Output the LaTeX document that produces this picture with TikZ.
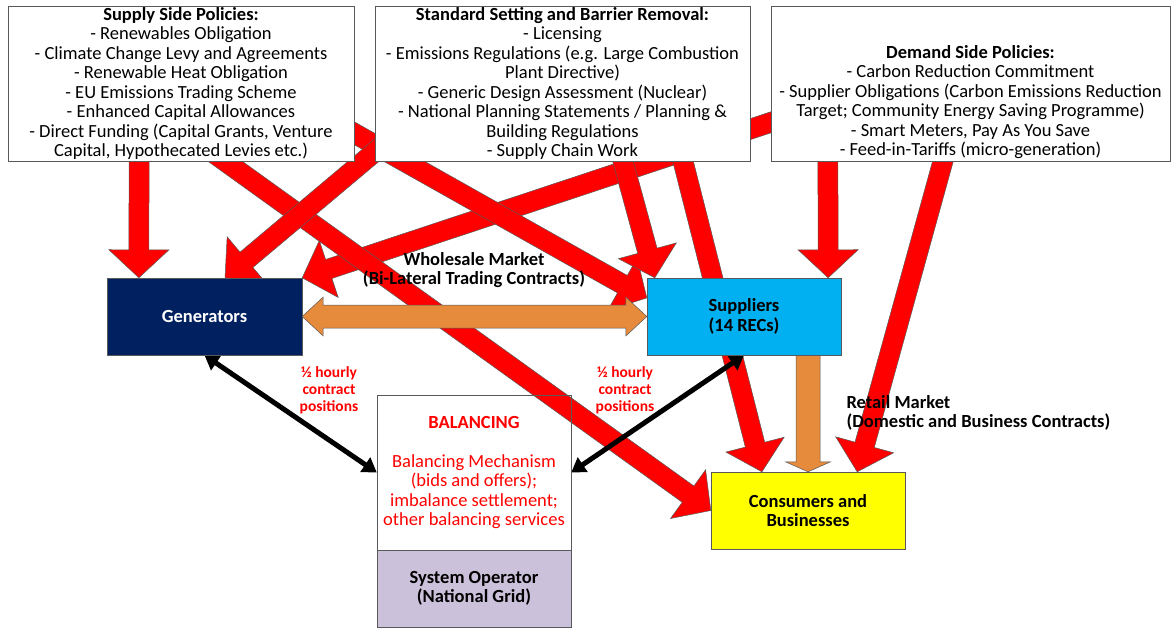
\documentclass[tikz,border=0pt]{standalone}
\usepackage{fontspec}
\setmainfont{Carlito}
\usetikzlibrary{calc,arrows.meta}
\definecolor{orangearr}{HTML}{E68A3C}
\definecolor{genblue}{HTML}{002060}
\definecolor{supblue}{HTML}{00B0F0}
\definecolor{consyellow}{HTML}{FFFF00}
\definecolor{sysop}{HTML}{CCC1DA}
\definecolor{edgegray}{HTML}{595959}
\definecolor{txtred}{HTML}{FF0000}
% style, from, to, half shaft, half head, head length
\newcommand\blockarrow[6]{%
  \coordinate (ba-s) at ($(#2)!-25pt!(#3)$);
  \coordinate (ba-b) at ($(#3)!#6!(#2)$);
  \draw[#1] ($(ba-s)!#4!90:(#3)$) -- ($(ba-b)!#4!90:(#3)$) -- ($(ba-b)!#5!90:(#3)$) -- (#3)
    -- ($(ba-b)!#5!-90:(#3)$) -- ($(ba-b)!#4!-90:(#3)$) -- ($(ba-s)!#4!-90:(#3)$) -- cycle;}
\newcommand\dblarrow[6]{%
  \coordinate (da-a) at ($(#2)!#6!(#3)$);
  \coordinate (da-b) at ($(#3)!#6!(#2)$);
  \draw[#1] (#2) -- ($(da-a)!#5!90:(#3)$) -- ($(da-a)!#4!90:(#3)$) -- ($(da-b)!#4!90:(#3)$)
    -- ($(da-b)!#5!90:(#3)$) -- (#3) -- ($(da-b)!#5!-90:(#3)$) -- ($(da-b)!#4!-90:(#3)$)
    -- ($(da-a)!#4!-90:(#3)$) -- ($(da-a)!#5!-90:(#3)$) -- cycle;}
\begin{document}
\begin{tikzpicture}[x=1pt,y=-1pt,
  box/.style={draw=edgegray, line width=0.8pt, inner sep=0pt, align=center},
  maintext/.style={font=\fontsize{18.5}{19.5}\selectfont},
  boldtext/.style={font=\fontsize{18.5}{19.5}\selectfont\bfseries},
  smallred/.style={font=\fontsize{15.5}{16.8}\selectfont\bfseries, text=txtred, align=center},
  redarr/.style={fill=red, draw=edgegray, line width=0.5pt},
  orarr/.style={fill=orangearr, draw=edgegray, line width=0.5pt},
  blkarr/.style={line width=5pt, {Triangle[length=14pt,width=17pt]}-{Triangle[length=14pt,width=17pt]}}
]
\useasboundingbox[fill=white] (0,0) rectangle (1173,627);
\path
  (181,83.5) node[minimum width=346pt, minimum height=155pt] (Sup) {}
  (562.5,83.5) node[minimum width=375pt, minimum height=155pt] (Std) {}
  (970.5,83.5) node[minimum width=399pt, minimum height=155pt] (Dem) {}
  (204.5,316.5) node[minimum width=195pt, minimum height=77pt] (Gen) {}
  (744,316.5) node[minimum width=194pt, minimum height=77pt] (Supp) {}
  (808,510.5) node[minimum width=194pt, minimum height=77pt] (Cons) {}
  (474,472.5) node[minimum width=194pt, minimum height=155pt] (Bal) {}
  (474,588.5) node[minimum width=194pt, minimum height=77pt] (SysOp) {};
% balancing box fill (under the red arrow that crosses its corner)
\fill[white] (Bal.north west) rectangle (Bal.south east);
% start points on the policy boxes
\coordinate (s1) at ($(Sup.south west)!0.379!(Sup.south east)$);
\coordinate (s2) at ($(Sup.south west)!0.627!(Sup.south east)$);
\coordinate (s3) at ($(Sup.north east)!0.82!(Sup.south east)$);
\coordinate (s4) at ($(Std.north west)!0.94!(Std.south west)$);
\coordinate (s5) at ($(Std.south west)!0.661!(Std.south east)$);
\coordinate (s6) at ($(Std.south west)!0.821!(Std.south east)$);
\coordinate (s7) at ($(Dem.north west)!0.75!(Dem.south west)$);
\coordinate (s8) at ($(Dem.south west)!0.143!(Dem.south east)$);
\coordinate (s9) at ($(Dem.south west)!0.431!(Dem.south east)$);
% tip points on the target boxes
\coordinate (t1) at ($(Gen.north west)!0.164!(Gen.north east)$);
\coordinate (t2) at (Cons.west);
\coordinate (t3) at ($(Supp.north west)!0.26!(Supp.south west)$);
\coordinate (t4) at ($(Gen.north west)!0.605!(Gen.north east)$);
\coordinate (t5) at ($(Supp.north west)!0.041!(Supp.north east)$);
\coordinate (t6) at ($(Cons.north west)!0.263!(Cons.north east)$);
\coordinate (t7) at (Gen.north east);
\coordinate (t8) at ($(Supp.north west)!0.933!(Supp.north east)$);
\coordinate (t9) at ($(Cons.north west)!0.753!(Cons.north east)$);
% red policy arrows
\blockarrow{redarr}{s7}{t7}{10pt}{30pt}{28pt}
\blockarrow{redarr}{s2}{t2}{10pt}{30pt}{28pt}
\blockarrow{redarr}{s3}{t3}{10pt}{30pt}{28pt}
\blockarrow{redarr}{s4}{t4}{10pt}{30pt}{28pt}
\blockarrow{redarr}{s1}{t1}{10pt}{30pt}{28pt}
\blockarrow{redarr}{s6}{t6}{10pt}{30pt}{28pt}
\blockarrow{redarr}{s5}{t5}{10pt}{30pt}{28pt}
\blockarrow{redarr}{s8}{t8}{10pt}{30pt}{28pt}
\blockarrow{redarr}{s9}{t9}{10pt}{30pt}{28pt}
% market arrows
\dblarrow{orarr}{Gen.east}{Supp.west}{11.5pt}{19.5pt}{21pt}
\coordinate (o1) at (Supp.south -| Cons.north);
\blockarrow{orarr}{o1}{Cons.north}{12pt}{22.5pt}{10pt}
% balancing arrows
\draw[blkarr] (Gen.south) -- (Bal.west);
\draw[blkarr] (Supp.south) -- (Bal.east);
% labels
\node[boldtext, align=center] (wm) at (474,270) {Wholesale Market\\(Bi-Lateral Trading Contracts)};
\node[boldtext, align=left, anchor=west] (rm) at (843,413) {Retail Market\\(Domestic and Business Contracts)};
\node[smallred] (hh1) at (329,390) {½ hourly\\contract\\positions};
\node[smallred] (hh2) at (625,390) {½ hourly\\contract\\positions};
% boxes
\node[box, maintext, fill=white, minimum width=346pt, minimum height=155pt] at (Sup) {\textbf{Supply Side Policies:}\\- Renewables Obligation\\- Climate Change Levy and Agreements\\- Renewable Heat Obligation\\- EU Emissions Trading Scheme\\- Enhanced Capital Allowances\\- Direct Funding (Capital Grants, Venture\\Capital, Hypothecated Levies etc.)};
\node[box, maintext, fill=white, minimum width=375pt, minimum height=155pt] at (Std) {\textbf{Standard Setting and Barrier Removal:}\\- Licensing\\- Emissions Regulations (e.g. Large Combustion\\Plant Directive)\\- Generic Design Assessment (Nuclear)\\- National Planning Statements / Planning \&\\Building Regulations\\- Supply Chain Work};
\node[box, fill=white, minimum width=399pt, minimum height=155pt] at (Dem) {};
\node[maintext, align=center] (demtxt) at (970.5,102) {\textbf{Demand Side Policies:}\\- Carbon Reduction Commitment\\- Supplier Obligations (Carbon Emissions Reduction\\Target; Community Energy Saving Programme)\\- Smart Meters, Pay As You Save\\- Feed-in-Tariffs (micro-generation)};
\node[box, boldtext, fill=genblue, text=white, minimum width=195pt, minimum height=77pt] at (Gen) {Generators};
\node[box, boldtext, fill=supblue, minimum width=194pt, minimum height=77pt] at (Supp) {Suppliers\\(14 RECs)};
\node[box, boldtext, fill=consyellow, minimum width=194pt, minimum height=77pt] at (Cons) {Consumers and\\Businesses};
\node[box, maintext, text=txtred, minimum width=194pt, minimum height=155pt] at (Bal) {\textbf{BALANCING}\\\mbox{}\\Balancing Mechanism\\(bids and offers);\\imbalance settlement;\\other balancing services};
\node[box, boldtext, fill=sysop, minimum width=194pt, minimum height=77pt] at (SysOp) {System Operator\\(National Grid)};
\end{tikzpicture}
\end{document}
